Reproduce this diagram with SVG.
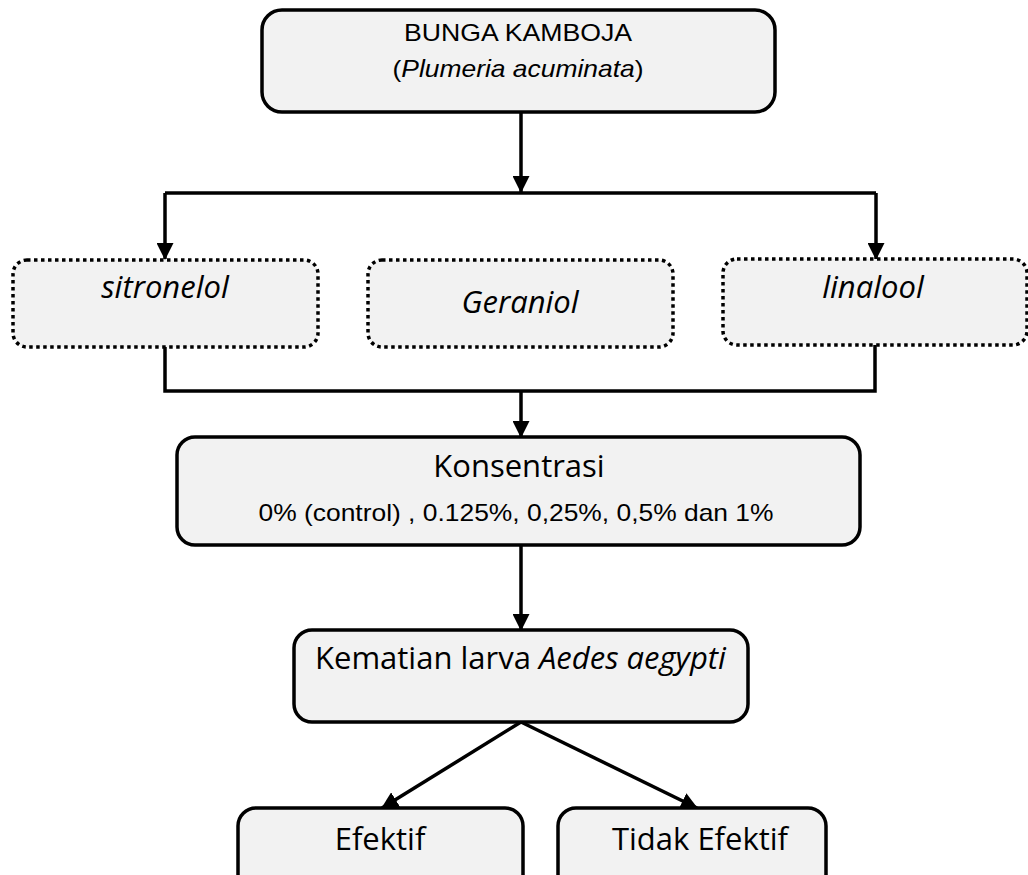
<svg xmlns="http://www.w3.org/2000/svg" width="1028" height="875" viewBox="0 0 1028 875">
<defs>
<marker id="ah" markerUnits="userSpaceOnUse" markerWidth="17" markerHeight="17" viewBox="0 0 17 17" refX="16" refY="8.5" orient="auto">
<path d="M0,0 L17,8.5 L0,17 Z" fill="#000"/>
</marker>
<style>
.box{fill:#f2f2f2;stroke:#000;stroke-width:3.5}
.dot{fill:#f2f2f2;stroke:#000;stroke-width:3.5;stroke-dasharray:3.5 3.5}
.ln{fill:none;stroke:#000;stroke-width:3.5}
.ar{fill:none;stroke:#000;stroke-width:3.5;marker-end:url(#ah)}
.a{font-family:"Liberation Sans",Arial,sans-serif;font-size:24px;fill:#000}
.c{font-family:"Open Sans","Noto Sans",sans-serif;font-size:31px;fill:#000}
.i{font-style:italic}
</style>
</defs>
<g id="connectors">
<path class="ar" d="M521,112 V192"/>
<path class="ln" d="M165,193 H876"/>
<path class="ar" d="M165,193 V259"/>
<path class="ar" d="M876,193 V259"/>
<path class="ln" d="M165,347 V391 H875 V345"/>
<path class="ar" d="M521,391 V437"/>
<path class="ar" d="M521,545 V630"/>
<path class="ar" d="M521,722 L382,808"/>
<path class="ar" d="M521,722 L697,808"/>
</g>
<g id="node-bunga">
<rect class="box" x="262" y="10" width="513" height="102" rx="20"/>
<text class="a" x="518" y="41" text-anchor="middle" textLength="228" lengthAdjust="spacingAndGlyphs">BUNGA KAMBOJA</text>
<text class="a" x="518" y="77" text-anchor="middle" textLength="251" lengthAdjust="spacingAndGlyphs">(<tspan class="i">Plumeria acuminata</tspan>)</text>
</g>
<g id="node-sitronelol">
<rect class="dot" x="13" y="260" width="305" height="87" rx="14"/>
<text class="c i" x="165" y="298" text-anchor="middle">sitronelol</text>
</g>
<g id="node-geraniol">
<rect class="dot" x="368" y="260" width="305" height="87" rx="14"/>
<text class="c i" x="520" y="313" text-anchor="middle">Geraniol</text>
</g>
<g id="node-linalool">
<rect class="dot" x="723" y="259" width="304" height="86" rx="14"/>
<text class="c i" x="873" y="298" text-anchor="middle">linalool</text>
</g>
<g id="node-konsentrasi">
<rect class="box" x="177" y="437" width="683" height="108" rx="18"/>
<text class="c" x="519" y="477" text-anchor="middle">Konsentrasi</text>
<text class="a" x="516" y="521" text-anchor="middle" textLength="515" lengthAdjust="spacingAndGlyphs">0% (control) , 0.125%, 0,25%, 0,5% dan 1%</text>
</g>
<g id="node-kematian">
<rect class="box" x="294" y="630" width="454" height="92" rx="18"/>
<text class="c" x="315" y="669">Kematian larva <tspan class="i">Aedes aegypti</tspan></text>
</g>
<g id="node-efektif">
<rect class="box" x="238" y="808" width="285" height="90" rx="18"/>
<text class="c" x="380" y="850" text-anchor="middle">Efektif</text>
</g>
<g id="node-tidak">
<rect class="box" x="558" y="808" width="268" height="90" rx="18"/>
<text class="c" x="700" y="850" text-anchor="middle">Tidak Efektif</text>
</g>
</svg>
